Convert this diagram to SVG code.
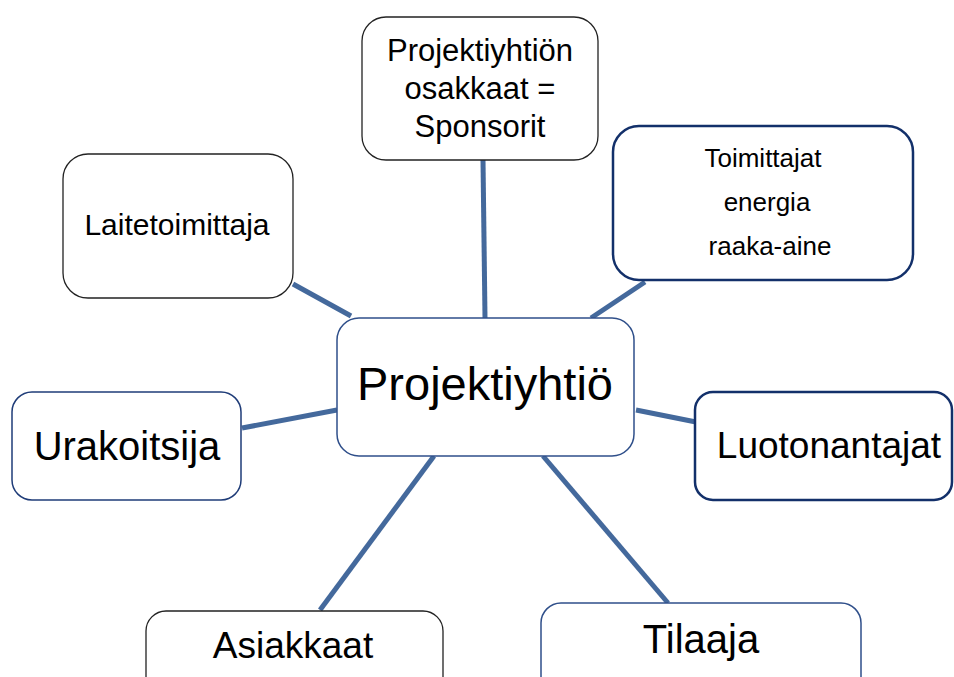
<svg xmlns="http://www.w3.org/2000/svg" width="954" height="677" viewBox="0 0 954 677">
<style>
.box{fill:#fff}
.blk{stroke:#222;stroke-width:1.3}
.blu{stroke:#2f4f8a;stroke-width:1.5}
.nav{stroke:#13306a;stroke-width:2.5}
.t{font-family:"Liberation Sans",Arial,sans-serif;fill:#000;text-anchor:middle}
.c line{stroke:#44699c;stroke-width:5;stroke-linecap:butt}
</style>
<rect width="954" height="677" fill="#fff"/>
<g class="c" id="connectors">
<line x1="483" y1="160" x2="485" y2="318"/>
<line x1="645" y1="282" x2="591" y2="318"/>
<line x1="293" y1="284" x2="351" y2="316"/>
<line x1="242" y1="428" x2="337" y2="410"/>
<line x1="636" y1="410" x2="696" y2="422"/>
<line x1="434" y1="456" x2="320" y2="610"/>
<line x1="543" y1="456" x2="668" y2="603"/>
</g>
<g id="sponsorit">
<rect class="box blk" x="362" y="17" width="236" height="143" rx="24"/>
<text class="t" x="480" y="61" font-size="31">Projektiyhtiön</text>
<text class="t" x="480" y="99" font-size="31">osakkaat =</text>
<text class="t" x="480" y="137" font-size="31">Sponsorit</text>
</g>
<g id="toimittajat">
<rect class="box nav" x="613" y="126" width="300" height="154" rx="26"/>
<text class="t" x="763" y="167" font-size="26">Toimittajat</text>
<text class="t" x="767" y="211" font-size="26">energia</text>
<text class="t" x="770" y="255" font-size="26">raaka-aine</text>
</g>
<g id="laitetoimittaja">
<rect class="box blk" x="63" y="154" width="230" height="144" rx="25"/>
<text class="t" x="177" y="235" font-size="30">Laitetoimittaja</text>
</g>
<g id="projektiyhtio">
<rect class="box blu" x="337" y="318" width="297" height="138" rx="22"/>
<text class="t" x="485" y="400" font-size="47">Projektiyhtiö</text>
</g>
<g id="urakoitsija">
<rect class="box blu" x="12" y="392" width="229" height="108" rx="20" style="stroke:#1f3c78"/>
<text class="t" x="127" y="460" font-size="40">Urakoitsija</text>
</g>
<g id="luotonantajat">
<rect class="box nav" x="695" y="392" width="257" height="108" rx="18"/>
<text class="t" x="829" y="458" font-size="37">Luotonantajat</text>
</g>
<g id="asiakkaat">
<rect class="box blk" x="146" y="611" width="297" height="100" rx="20"/>
<text class="t" x="293" y="658" font-size="37">Asiakkaat</text>
</g>
<g id="tilaaja">
<rect class="box blu" x="541" y="603" width="320" height="100" rx="20"/>
<text class="t" x="701" y="653" font-size="40">Tilaaja</text>
</g>
</svg>
